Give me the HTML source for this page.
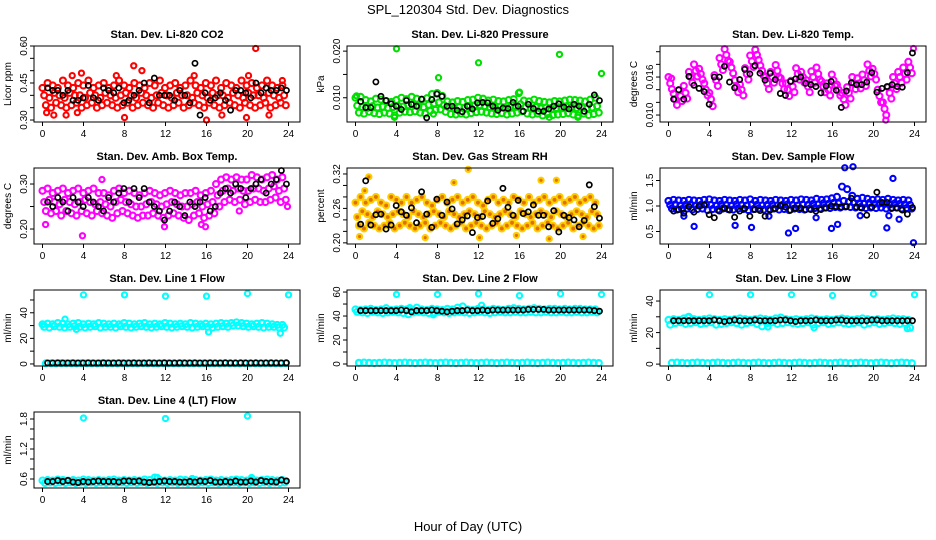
<!DOCTYPE html>
<html><head><meta charset="utf-8">
<style>
html,body{margin:0;padding:0;background:#fff;}
svg{display:block;font-family:"Liberation Sans",Arial,sans-serif;}
</style></head>
<body>
<svg id="chart" width="936" height="540" viewBox="0 0 936 540" xmlns="http://www.w3.org/2000/svg">
<text x="468" y="14" font-size="13" text-anchor="middle">SPL_120304  Std. Dev. Diagnostics</text>
<text x="468" y="531" font-size="13" text-anchor="middle">Hour of Day (UTC)</text>
</svg>
<script>
// ---------- data ----------
const xTicks = [0,4,8,12,16,20,24];
// CO2
const co2Hi = [0.43,0.45,0.44,0.43,0.46,0.44,0.43,0.45,0.44,0.46,0.43,0.44,0.45,0.43,0.44,0.46,0.44,0.43,0.45,0.44,0.43,0.45,0.44,0.46,0.43,0.44,0.45,0.43,0.44,0.46,0.44,0.43,0.45,0.44,0.46,0.43,0.45,0.44,0.43,0.46,0.44,0.45,0.43,0.44,0.46,0.44,0.43,0.44];
const co2Mid = [0.40,0.39,0.41,0.40,0.39,0.41,0.40,0.40,0.39,0.41,0.40,0.39,0.41,0.40,0.39,0.40,0.41,0.40,0.39,0.41,0.40,0.39,0.40,0.41,0.40,0.39,0.41,0.40,0.40,0.39,0.41,0.40,0.39,0.41,0.40,0.40,0.39,0.41,0.40,0.39,0.41,0.40,0.40,0.39,0.41,0.40,0.39,0.40];
const co2Lo = [0.36,0.35,0.37,0.36,0.35,0.36,0.37,0.35,0.36,0.37,0.35,0.36,0.37,0.36,0.35,0.36,0.37,0.35,0.36,0.37,0.36,0.35,0.37,0.36,0.35,0.36,0.37,0.35,0.36,0.37,0.36,0.35,0.37,0.36,0.35,0.36,0.37,0.36,0.35,0.37,0.36,0.35,0.36,0.37,0.35,0.36,0.37,0.36];
const co2Black = [0.43,0.42,0.42,0.40,0.42,0.38,0.38,0.39,0.44,0.39,0.38,0.43,0.42,0.41,0.43,0.37,0.38,0.40,0.42,0.45,0.37,0.47,0.40,0.40,0.40,0.38,0.42,0.40,0.37,0.53,0.32,0.41,0.38,0.39,0.41,0.38,0.34,0.42,0.42,0.41,0.39,0.45,0.41,0.43,0.42,0.42,0.43,0.42];
const co2OutH = [0.4,1.1,2.3,2.9,3.4,3.8,7.2,8,8.9,9.7,14.8,16,17.5,19.9,20.1,20.8,22.1,23.4];
const co2OutV = [0.33,0.32,0.32,0.48,0.33,0.49,0.48,0.31,0.52,0.50,0.48,0.30,0.32,0.31,0.48,0.59,0.32,0.46];
// Pressure
const prHi = [0.0100,0.0102,0.0095,0.0092,0.0098,0.0096,0.0093,0.0091,0.0095,0.0100,0.0097,0.0102,0.0098,0.0096,0.0099,0.0108,0.0110,0.0104,0.0092,0.0090,0.0093,0.0091,0.0095,0.0096,0.0100,0.0098,0.0094,0.0096,0.0093,0.0092,0.0095,0.0097,0.0110,0.0094,0.0092,0.0096,0.0093,0.0091,0.0090,0.0093,0.0092,0.0094,0.0096,0.0095,0.0094,0.0092,0.0096,0.0100];
const prMid = [0.0083,0.0080,0.0078,0.0082,0.0079,0.0081,0.0078,0.0080,0.0083,0.0081,0.0084,0.0086,0.0082,0.0080,0.0085,0.0088,0.0090,0.0084,0.0079,0.0077,0.0080,0.0078,0.0081,0.0083,0.0084,0.0082,0.0080,0.0079,0.0081,0.0078,0.0080,0.0082,0.0086,0.0080,0.0078,0.0080,0.0077,0.0079,0.0076,0.0078,0.0079,0.0081,0.0079,0.0078,0.0080,0.0077,0.0079,0.0082];
const prLo = [0.0068,0.0066,0.0070,0.0067,0.0065,0.0068,0.0066,0.0062,0.0068,0.0070,0.0069,0.0071,0.0068,0.0066,0.0072,0.0074,0.0075,0.0070,0.0065,0.0064,0.0066,0.0064,0.0067,0.0069,0.0070,0.0068,0.0066,0.0065,0.0067,0.0064,0.0066,0.0068,0.0071,0.0066,0.0064,0.0066,0.0062,0.0065,0.0063,0.0064,0.0065,0.0067,0.0064,0.0062,0.0066,0.0063,0.0065,0.0068];
const prBlack = [0.0092,0.0079,0.0079,0.0134,0.0103,0.0094,0.0087,0.0082,0.0075,0.0094,0.0086,0.0082,0.0097,0.0057,0.0096,0.0108,0.0103,0.0082,0.0082,0.0073,0.0070,0.0082,0.0076,0.0089,0.0090,0.0089,0.0082,0.0073,0.0078,0.0077,0.0090,0.0082,0.0071,0.0086,0.0077,0.0071,0.0071,0.0076,0.0082,0.0087,0.0080,0.0076,0.0086,0.0082,0.0071,0.0086,0.0106,0.0094];
const prOutH = [4,8.1,12,16,19.9,24,0.1,3.8,18.9,21.7,7.6];
const prOutV = [0.0205,0.0143,0.0175,0.0112,0.0193,0.0152,0.0104,0.0058,0.0058,0.0058,0.0065];
// Li-820 temperature
const tpHi = [0.0160,0.0134,0.0139,0.0146,0.0168,0.0180,0.0173,0.0150,0.0135,0.0163,0.0190,0.0204,0.0184,0.0155,0.0148,0.0174,0.0194,0.0203,0.0178,0.0160,0.0168,0.0179,0.0158,0.0150,0.0154,0.0174,0.0168,0.0155,0.0169,0.0175,0.0153,0.0150,0.0164,0.0148,0.0135,0.0144,0.0160,0.0158,0.0164,0.0180,0.0173,0.0140,0.0120,0.0144,0.0160,0.0168,0.0175,0.0184];
const tpMid = [0.0150,0.0125,0.0130,0.0135,0.0160,0.0170,0.0165,0.0140,0.0125,0.0155,0.0180,0.0195,0.0175,0.0145,0.0140,0.0165,0.0185,0.0195,0.0170,0.0150,0.0160,0.0170,0.0150,0.0140,0.0145,0.0165,0.0160,0.0145,0.0160,0.0165,0.0145,0.0140,0.0155,0.0140,0.0125,0.0135,0.0150,0.0150,0.0155,0.0170,0.0165,0.0130,0.0110,0.0135,0.0150,0.0160,0.0165,0.0175];
const tpLo = [0.0141,0.0116,0.0122,0.0126,0.0151,0.0161,0.0156,0.0131,0.0114,0.0146,0.0171,0.0186,0.0166,0.0136,0.0131,0.0156,0.0176,0.0187,0.0162,0.0141,0.0151,0.0160,0.0141,0.0130,0.0136,0.0156,0.0151,0.0136,0.0151,0.0156,0.0136,0.0131,0.0146,0.0131,0.0116,0.0126,0.0141,0.0142,0.0146,0.0161,0.0156,0.0120,0.0100,0.0126,0.0141,0.0151,0.0156,0.0166];
const tpBlack = [0.0125,0.0140,0.0125,0.0161,0.0147,0.0142,0.0137,0.0117,0.0160,0.0160,0.0177,0.0152,0.0143,0.0156,0.0172,0.0165,0.0178,0.0166,0.0155,0.0166,0.0156,0.0134,0.0131,0.0153,0.0157,0.0160,0.0150,0.0148,0.0145,0.0135,0.0146,0.0153,0.0139,0.0112,0.0138,0.0151,0.0148,0.0148,0.0152,0.0167,0.0136,0.0142,0.0145,0.0148,0.0145,0.0144,0.0167,0.0198];
const tpOutH = [21.2,0.3,23.9];
const tpOutV = [0.0092,0.0158,0.0205];
// Amb box temp
const abHi = [0.285,0.29,0.28,0.285,0.29,0.28,0.285,0.29,0.28,0.285,0.29,0.28,0.28,0.275,0.285,0.29,0.28,0.285,0.28,0.275,0.28,0.285,0.28,0.275,0.28,0.285,0.28,0.275,0.28,0.28,0.285,0.275,0.28,0.285,0.30,0.31,0.315,0.31,0.315,0.31,0.31,0.32,0.315,0.31,0.315,0.32,0.31,0.315];
const abMid = [0.26,0.265,0.26,0.255,0.265,0.26,0.255,0.26,0.265,0.26,0.255,0.26,0.255,0.25,0.26,0.265,0.26,0.255,0.25,0.25,0.255,0.26,0.255,0.25,0.255,0.26,0.255,0.25,0.25,0.255,0.26,0.25,0.255,0.26,0.275,0.285,0.29,0.285,0.29,0.285,0.285,0.29,0.29,0.285,0.29,0.295,0.285,0.29];
const abLo = [0.24,0.235,0.24,0.23,0.24,0.235,0.23,0.24,0.235,0.23,0.24,0.235,0.23,0.225,0.235,0.24,0.235,0.23,0.225,0.23,0.23,0.235,0.23,0.225,0.23,0.235,0.23,0.225,0.22,0.23,0.235,0.225,0.23,0.235,0.25,0.26,0.265,0.26,0.265,0.255,0.26,0.265,0.26,0.26,0.265,0.27,0.26,0.265];
const abBlack = [0.26,0.25,0.27,0.26,0.24,0.27,0.26,0.25,0.27,0.26,0.25,0.24,0.27,0.26,0.28,0.29,0.26,0.29,0.27,0.29,0.26,0.25,0.24,0.22,0.24,0.26,0.25,0.23,0.26,0.25,0.26,0.27,0.24,0.25,0.28,0.29,0.28,0.30,0.29,0.27,0.29,0.30,0.31,0.28,0.30,0.31,0.33,0.30];
const abOutH = [3.9,0.3,11.9,15.9,23.9,19.2,15.5,5.8];
const abOutV = [0.185,0.21,0.205,0.205,0.25,0.24,0.21,0.31];
// Gas stream RH
const rhHi = [0.27,0.28,0.27,0.275,0.28,0.27,0.265,0.28,0.275,0.27,0.28,0.27,0.275,0.28,0.27,0.265,0.275,0.28,0.27,0.275,0.28,0.27,0.275,0.28,0.27,0.265,0.275,0.28,0.27,0.275,0.27,0.28,0.275,0.27,0.28,0.27,0.275,0.28,0.27,0.275,0.28,0.27,0.275,0.28,0.27,0.275,0.28,0.27];
const rhMid = [0.245,0.255,0.25,0.245,0.255,0.25,0.245,0.25,0.255,0.25,0.245,0.255,0.25,0.245,0.25,0.255,0.25,0.245,0.255,0.25,0.245,0.25,0.255,0.25,0.245,0.255,0.25,0.245,0.25,0.255,0.25,0.245,0.255,0.25,0.245,0.25,0.255,0.25,0.245,0.255,0.25,0.245,0.25,0.255,0.25,0.245,0.255,0.25];
const rhLo = [0.23,0.225,0.235,0.23,0.225,0.23,0.235,0.225,0.23,0.235,0.23,0.225,0.23,0.235,0.225,0.23,0.235,0.23,0.225,0.23,0.235,0.225,0.23,0.235,0.23,0.225,0.23,0.235,0.225,0.23,0.235,0.23,0.225,0.23,0.235,0.225,0.23,0.235,0.23,0.225,0.23,0.235,0.225,0.23,0.235,0.23,0.225,0.23];
const rhBlack = [0.2325,0.308,0.231,0.249,0.25,0.224,0.231,0.265,0.254,0.248,0.261,0.235,0.289,0.250,0.227,0.276,0.248,0.271,0.259,0.233,0.240,0.247,0.218,0.244,0.246,0.273,0.234,0.242,0.295,0.262,0.248,0.274,0.251,0.254,0.266,0.248,0.248,0.228,0.256,0.219,0.248,0.244,0.240,0.228,0.239,0.301,0.263,0.243];
const rhOutH = [1.3,11,18.1,19.6,6.8,0.4,12.1,15.7,18.9,22.2,9.6,0.9];
const rhOutV = [0.315,0.328,0.309,0.309,0.209,0.211,0.209,0.213,0.207,0.211,0.305,0.291];
// Sample flow
const sfHi = [1.10,1.12,1.11,1.10,1.12,1.11,1.10,1.12,1.13,1.11,1.10,1.12,1.11,1.10,1.12,1.11,1.13,1.10,1.12,1.11,1.10,1.12,1.11,1.10,1.12,1.11,1.13,1.12,1.11,1.14,1.12,1.13,1.15,1.18,1.38,1.33,1.20,1.14,1.16,1.14,1.12,1.13,1.12,1.14,1.12,1.11,1.12,1.11];
const sfMid = [1.02,1.03,1.01,1.02,1.03,1.01,1.02,1.03,1.02,1.01,1.03,1.02,1.01,1.03,1.02,1.01,1.03,1.02,1.01,1.02,1.03,1.01,1.02,1.03,1.02,1.01,1.03,1.02,1.04,1.03,1.05,1.04,1.06,1.05,1.10,1.08,1.06,1.05,1.04,1.06,1.04,1.05,1.04,1.03,1.05,1.04,1.03,1.02];
const sfLo = [0.95,0.93,0.94,0.95,0.93,0.94,0.95,0.92,0.94,0.93,0.95,0.94,0.93,0.95,0.94,0.92,0.94,0.95,0.93,0.94,0.95,0.93,0.94,0.92,0.95,0.94,0.93,0.95,0.96,0.95,0.97,0.96,0.98,0.97,0.99,0.98,0.97,0.98,0.96,0.97,0.96,0.97,0.95,0.96,0.97,0.95,0.96,0.95];
const sfBlack = [0.90,0.93,0.86,0.99,0.88,1.00,1.02,0.83,0.77,0.90,0.96,0.92,0.78,0.90,0.95,0.80,0.93,0.91,0.80,0.92,0.95,1.01,0.98,0.92,0.96,0.96,0.93,0.93,0.90,0.93,0.96,1.00,0.99,0.98,0.99,1.15,0.98,0.96,0.82,0.98,1.27,1.07,1.07,0.96,0.96,0.92,0.84,0.97];
const sfOutH = [1.5,2.5,6.5,8.1,11.7,12.4,15.9,16.5,21.3,22.5,17.2,18.0,21.9,23.9,14.4,18.7,9.8,21.5];
const sfOutV = [0.80,0.60,0.62,0.58,0.47,0.56,0.56,0.64,0.57,0.74,1.75,1.77,1.54,0.28,0.77,0.81,0.80,0.81];
// Line 1
const l1Hi = [31,31.5,31,32,31.5,31,31.5,32,31,31.5,31,32,31.5,31,31.5,31,32,31.5,31,31.5,32,31,31.5,31,32,31.5,31,31.5,31,32,31.5,31,31.5,31,31.5,32,31.5,32,32.5,32,31.5,31,31.5,32,31.5,31,30.5,30.5];
const l1Lo = [29,28.5,29.5,29,28.5,29,29.5,29,28.5,29,29.5,28.5,29,29,28.5,29.5,29,28.5,29,29.5,29,28.5,29,29.5,29,28.5,29,29.5,29,28.5,29,29.5,29,28.5,29,29.5,29,30,30,29.5,29,29.5,29,28.5,29,29,28.5,28.5];
const l1Zero = [0.5,0.5,0.4,0.6,0.5,0.5,0.4,0.6,0.5,0.5,0.4,0.6,0.5,0.5,0.4,0.6,0.5,0.5,0.4,0.6,0.5,0.5,0.4,0.6,0.5,0.5,0.4,0.6,0.5,0.5,0.4,0.6,0.5,0.5,0.4,0.6,0.5,0.5,0.4,0.6,0.5,0.5,0.4,0.6,0.5,0.5,0.4,0.6];
const l1Black = [0.8,0.8,0.9,0.8,0.8,0.9,0.8,0.8,0.9,0.8,0.8,0.9,0.8,0.8,0.9,0.8,0.8,0.9,0.8,0.8,0.9,0.8,0.8,0.9,0.8,0.8,0.9,0.8,0.8,0.9,0.8,0.8,0.9,0.8,0.8,0.9,0.8,0.8,0.9,0.8,0.8,0.9,0.8,0.8,0.9,0.8,0.8,0.9];
const l1OutH = [4,8,12,16,20,24,2.2,3.3,16.2,23.2,0.1];
const l1OutV = [54,54,53,53,55,54,35,27,25,24,31];
// Line 2
const l2Hi = [45.5,45,45.5,46,45,45.5,46.5,45,45.5,46,45.5,45,47,45.5,45,46,45.5,45,46,45.5,47,48,45.5,45,46,45.5,45,46,45.5,45,46,46.5,46,45.5,46,46.5,46,45.5,46,46,45.5,46,45.5,46,46,45.5,45.5,45.5];
const l2Lo = [43.5,43,42.5,43.5,43,42.5,43,43.5,43,42.5,41.5,43,43.5,43,42.5,43,43.5,43,42.5,43,43.5,43,42.5,43,43.5,43,42.5,43,43.5,43,43,43.5,43,43,43.5,43,43,43.5,43,43,43.5,43,43,43.5,43,43,43.5,43];
const l2Zero = [1,1.2,1,0.8,1,1.2,1,0.8,1,1.2,1,0.8,1,1.2,1,0.8,1,1.2,1,0.8,1,1.2,1,0.8,1,1.2,1,0.8,1,1.2,1,0.8,1,1.2,1,0.8,1,1.2,1,0.8,1,1.2,1,0.8,1,1.2,1,0.8];
const l2Black = [44.5,44.5,44.5,44.5,44.5,44.5,44.5,44.5,45,44.5,43.5,44.5,44.5,44.5,45,44.5,44,43.5,44,44.5,44.5,45,44.5,44.5,45,44.5,45,45,45,45,45,45,45,45.5,45.5,45.5,45.5,45,45,45,45,45,45,45,45,45,44.5,44];
const l2OutH = [4,8,12,16,20,24,5.3,7.6,12.3];
const l2OutV = [58,58,58.5,57,58.5,58,47,41,49];
// Line 3
const l3Hi = [28,28.5,28,29,30,28.5,28,28.5,29,28.5,28,28.5,28,28.5,29,28.5,28,28.5,29,28.5,28,29,29.5,28.5,28,28.5,28,28.5,29,28.5,28,28.5,28,28.5,29,28.5,28,28.5,29,28.5,28,28.5,28,28.5,29,28.5,28.5,28];
const l3Lo = [25,26,26.5,25.5,26,26.5,25.5,26,26.5,25,25.5,26,26.5,26,25,26,26.5,25.5,24,26,26.5,25.5,26,26.5,26,25.5,26,26.5,25,26,26.5,25.5,26,26.5,26,25.5,26,26.5,25,26,26.5,25.5,26,26.5,26,25.5,26,23];
const l3Zero = [0.8,1,0.8,0.6,0.8,1,0.8,0.6,0.8,1,0.8,0.6,0.8,1,0.8,0.6,0.8,1,0.8,0.6,0.8,1,0.8,0.6,0.8,1,0.8,0.6,0.8,1,0.8,0.6,0.8,1,0.8,0.6,0.8,1,0.8,0.6,0.8,1,0.8,0.6,0.8,1,0.8,0.6];
const l3Black = [27.5,27.5,27.5,27.5,27.5,27.5,27.5,27.5,28,27.5,27,27.5,28,27.5,27.5,27.5,28,27.5,27.5,27.5,27.5,28,28,27.5,27,27.5,27.5,27.5,28,27.5,27.5,27.5,28,28,27.5,27.5,27.5,27.5,27.5,28,28,27.5,27.5,27.5,27.5,27.5,27.5,27.5];
const l3OutH = [4,8,12,16,20,24,1.9,9.7,14.2,23.3];
const l3OutV = [44,44,44,43.5,44.5,44,30,23.5,23,22.5];
// Line 4
const l4Hi = [0.57,0.58,0.57,0.59,0.58,0.57,0.58,0.57,0.59,0.58,0.57,0.58,0.57,0.58,0.59,0.57,0.58,0.57,0.58,0.57,0.59,0.58,0.63,0.58,0.57,0.58,0.57,0.59,0.58,0.57,0.58,0.57,0.58,0.59,0.57,0.58,0.57,0.58,0.59,0.58,0.57,0.58,0.57,0.58,0.59,0.58,0.57,0.58];
const l4Lo = [0.52,0.53,0.52,0.53,0.52,0.53,0.52,0.53,0.52,0.53,0.52,0.53,0.52,0.53,0.52,0.53,0.52,0.53,0.52,0.53,0.52,0.53,0.52,0.53,0.52,0.53,0.52,0.53,0.52,0.53,0.52,0.53,0.52,0.53,0.52,0.53,0.52,0.53,0.52,0.53,0.52,0.53,0.52,0.53,0.52,0.53,0.52,0.53];
const l4Black = [0.55,0.55,0.57,0.55,0.57,0.54,0.53,0.55,0.54,0.55,0.56,0.55,0.55,0.55,0.54,0.56,0.56,0.55,0.56,0.54,0.53,0.54,0.55,0.56,0.55,0.55,0.54,0.54,0.55,0.54,0.56,0.55,0.57,0.54,0.54,0.55,0.54,0.56,0.54,0.54,0.56,0.54,0.57,0.55,0.55,0.54,0.58,0.56];
const l4OutH = [4,12,20,11.2,20.4,14.6];
const l4OutV = [1.82,1.81,1.86,0.63,0.63,0.61];

// ---------- layout (not data) ----------
const panels = [
 {id:'co2',title:'Stan. Dev. Li-820 CO2',ylab:'Licor ppm',c:0,r:0,ymin:0.292,ymax:0.60,ticks:[0.30,0.35,0.40,0.45,0.50,0.55,0.60],labels:[[0.30,'0.30'],[0.45,'0.45'],[0.60,'0.60']],col:'#ff0000',series:[co2Hi,co2Mid,co2Lo],black:co2Black,oh:co2OutH,ov:co2OutV},
 {id:'pressure',title:'Stan. Dev. Li-820 Pressure',ylab:'kPa',c:1,r:0,ymin:0.0048,ymax:0.0211,ticks:[0.010,0.015,0.020],labels:[[0.010,'0.010'],[0.020,'0.020']],col:'#00e000',series:[prHi,prMid,prLo],black:prBlack,oh:prOutH,ov:prOutV},
 {id:'temp',title:'Stan. Dev. Li-820 Temp.',ylab:'degrees C',c:2,r:0,ymin:0.0089,ymax:0.0209,ticks:[0.010,0.012,0.014,0.016,0.018,0.020],labels:[[0.010,'0.010'],[0.016,'0.016']],col:'#ff00ff',series:[tpHi,tpMid,tpLo],black:tpBlack,oh:tpOutH,ov:tpOutV},
 {id:'ambbox',title:'Stan. Dev. Amb. Box Temp.',ylab:'degrees C',c:0,r:1,ymin:0.1667,ymax:0.3356,ticks:[0.20,0.25,0.30],labels:[[0.20,'0.20'],[0.30,'0.30']],col:'#ff00ff',series:[abHi,abMid,abLo],black:abBlack,oh:abOutH,ov:abOutV},
 {id:'rh',title:'Stan. Dev. Gas Stream RH',ylab:'percent',c:1,r:1,ymin:0.198,ymax:0.3304,ticks:[0.20,0.22,0.24,0.26,0.28,0.30,0.32],labels:[[0.20,'0.20'],[0.26,'0.26'],[0.32,'0.32']],col:'#ffcc00',fill:'#e07000',series:[rhHi,rhMid,rhLo],black:rhBlack,oh:rhOutH,ov:rhOutV},
 {id:'sample',title:'Stan. Dev. Sample Flow',ylab:'ml/min',c:2,r:1,ymin:0.255,ymax:1.745,ticks:[0.5,1.0,1.5],labels:[[0.5,'0.5'],[1.0,'1.0'],[1.5,'1.5']],col:'#0000ff',series:[sfHi,sfMid,sfLo],black:sfBlack,oh:sfOutH,ov:sfOutV},
 {id:'line1',title:'Stan. Dev. Line 1 Flow',ylab:'ml/min',c:0,r:2,ymin:-1.6,ymax:57.8,ticks:[0,10,20,30,40,50],labels:[[0,'0'],[20,'20'],[40,'40']],col:'#00ffff',series:[l1Hi,l1Lo,l1Zero],black:l1Black,oh:l1OutH,ov:l1OutV},
 {id:'line2',title:'Stan. Dev. Line 2 Flow',ylab:'ml/min',c:1,r:2,ymin:-1.67,ymax:61.7,ticks:[0,10,20,30,40,50,60],labels:[[0,'0'],[20,'20'],[40,'40'],[60,'60']],col:'#00ffff',series:[l2Hi,l2Lo,l2Zero],black:l2Black,oh:l2OutH,ov:l2OutV},
 {id:'line3',title:'Stan. Dev. Line 3 Flow',ylab:'ml/min',c:2,r:2,ymin:-1.2,ymax:47,ticks:[0,10,20,30,40],labels:[[0,'0'],[20,'20'],[40,'40']],col:'#00ffff',series:[l3Hi,l3Lo,l3Zero],black:l3Black,oh:l3OutH,ov:l3OutV},
 {id:'line4',title:'Stan. Dev. Line 4 (LT) Flow',ylab:'ml/min',c:0,r:3,ymin:0.42,ymax:1.94,ticks:[0.6,0.8,1.0,1.2,1.4,1.6,1.8],labels:[[0.6,'0.6'],[1.2,'1.2'],[1.8,'1.8']],col:'#00ffff',series:[l4Hi,l4Lo],black:l4Black,oh:l4OutH,ov:l4OutV}
];

const NS='http://www.w3.org/2000/svg';
const svg=document.getElementById('chart');
function mk(tag,attrs,parent){const e=document.createElementNS(NS,tag);for(const k in attrs)e.setAttribute(k,attrs[k]);parent.appendChild(e);return e;}

panels.forEach(p=>{
  const L=34+313*p.c, T=46+122*p.r, W=266, H=76, B=T+H;
  const xs=h=>L+8.5+h*10.25;
  const ys=v=>B-(v-p.ymin)/(p.ymax-p.ymin)*H;
  const span=p.ymax-p.ymin;
  const g=mk('g',{},svg);
  
  
  const t=mk('text',{x:L+W/2,y:T-8,'font-size':'11','font-weight':'bold','text-anchor':'middle'},g);
  t.textContent=p.title;
  
  
  const yl=mk('text',{x:0,y:0,'font-size':'10','text-anchor':'middle',transform:`translate(${L-23},${T+H/2}) rotate(-90)`},g);
  yl.textContent=p.ylab;
  
  
  // y axis
  const yax=mk('g',{},g);
  
  
  const y0=ys(p.ticks[0]), y1=ys(p.ticks[p.ticks.length-1]);
  mk('line',{x1:L,x2:L,y1:y0,y2:y1,stroke:'#000','stroke-width':1},yax);
  p.ticks.forEach(v=>{
    const y=ys(v);
    mk('line',{x1:L-4,x2:L,y1:y,y2:y,stroke:'#000','stroke-width':1},yax);
    const lab=p.labels.find(l=>Math.abs(l[0]-v)<span*1e-4);
    if(lab){
      const tl=mk('text',{x:0,y:0,'font-size':'10','text-anchor':'middle',transform:`translate(${L-7},${y}) rotate(-90)`},yax);
      tl.textContent=lab[1];
      
      
    }
  });
  // x axis
  const xax=mk('g',{},g);
  
  
  mk('line',{x1:xs(xTicks[0]),x2:xs(xTicks[xTicks.length-1]),y1:B,y2:B,stroke:'#000','stroke-width':1},xax);
  xTicks.forEach(h=>{
    mk('line',{x1:xs(h),x2:xs(h),y1:B,y2:B+4,stroke:'#000','stroke-width':1},xax);
    const tl=mk('text',{x:xs(h),y:B+15,'font-size':'10','text-anchor':'middle'},xax);
    tl.textContent=h;
    
    
  });
  // points
  const pg=mk('g',{fill:p.fill||'none',stroke:p.col,'stroke-width':2.1},g);
  
  
  p.series.forEach((arr,si)=>{
    arr.forEach((v,i)=>{
      const h=(i+si/p.series.length)*23.9/arr.length;
      const c=mk('circle',{cx:xs(h),cy:ys(v),r:3.0},pg);
      
      
    });
  });
  p.oh.forEach((h,i)=>{
    const c=mk('circle',{cx:xs(h),cy:ys(p.ov[i]),r:2.6},pg);
    
    
  });
  const bg=mk('g',{fill:'none',stroke:'#000','stroke-width':1.7},g);
  
  
  p.black.forEach((v,i)=>{
    const h=0.5+i*23.3/(p.black.length-1);
    const c=mk('circle',{cx:xs(h),cy:ys(v),r:2.6},bg);
    
    
  });
  const box=mk('rect',{x:L,y:T,width:W,height:H,fill:'none',stroke:'#000','stroke-width':1},g);
  
  
});
</script>
</body></html>
